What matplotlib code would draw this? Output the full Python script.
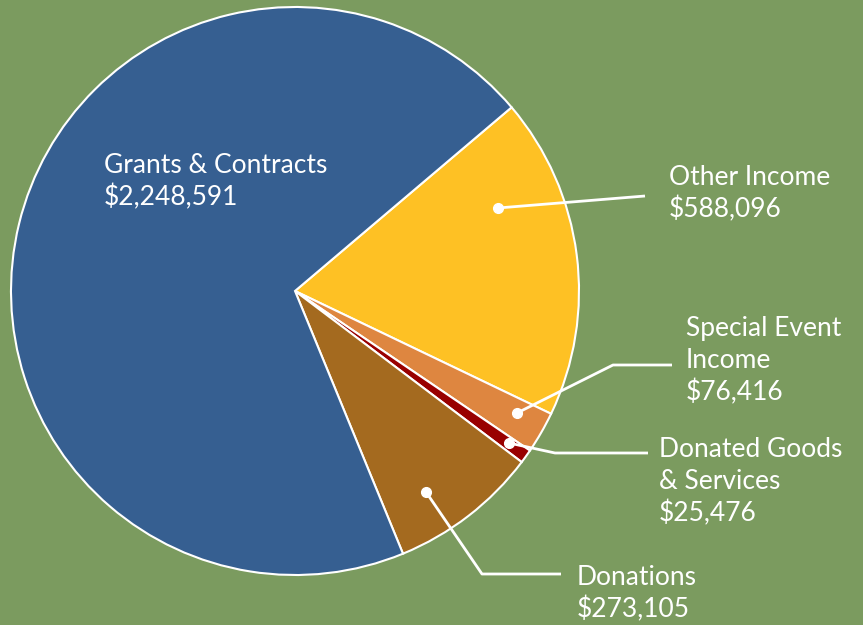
import matplotlib
matplotlib.use("Agg")
import matplotlib.pyplot as plt

# Data (clockwise order starting from the Grants/Other boundary)
categories = ["Other Income", "Special Event Income", "Donated Goods & Services", "Donations", "Grants & Contracts"]
values = [588096, 76416, 25476, 273105, 2248591]
label_lines = [["Other Income", "$588,096"],
               ["Special Event", "Income", "$76,416"],
               ["Donated Goods", "& Services", "$25,476"],
               ["Donations", "$273,105"],
               ["Grants & Contracts", "$2,248,591"]]
colors = ["#FEC124", "#DE8640", "#990000", "#A46A1F", "#365F91"]
BG = "#7B9B5F"

W, H = 863, 625
fig = plt.figure(figsize=(W / 100, H / 100), dpi=100, facecolor=BG)
ax = fig.add_axes([0, 0, 1, 1])

cx, cy, R = 295, H - 291, 284
ax.pie(values, colors=colors, startangle=40.3, counterclock=False,
       center=(cx, cy), radius=R, frame=True,
       wedgeprops=dict(edgecolor="white", linewidth=1.5))
ax.set_xlim(0, W)
ax.set_ylim(0, H)
ax.set_aspect("equal")
ax.axis("off")

font = dict(family=["Lato", "DejaVu Sans"], size=19, color="white")

# Leader lines: (dot, points...) in pixel layout coordinates (y from top)
leaders = [
    [(498, 208), (645, 196)],
    [(517, 413), (613, 365), (672, 365)],
    [(509, 443), (555, 453), (648, 453)],
    [(426, 492), (482, 574), (561, 574)],
]
# x and first baseline (y from top)
text_pos = [(669, 185), (686, 336), (659, 457), (577, 585), (104, 173)]
LS = 32

for pts in leaders:
    xs = [p[0] for p in pts]
    ys = [H - p[1] for p in pts]
    ax.plot(xs, ys, color="white", lw=2, solid_capstyle="butt", zorder=5)
    ax.plot(xs[0], ys[0], "o", color="white", ms=7, zorder=6)

for (tx, ty), lines in zip(text_pos, label_lines):
    for i, t in enumerate(lines):
        ax.text(tx, H - (ty + i * LS), t, ha="left", va="baseline", zorder=7, **font)

fig.savefig("out.png", dpi=100, facecolor=BG)
